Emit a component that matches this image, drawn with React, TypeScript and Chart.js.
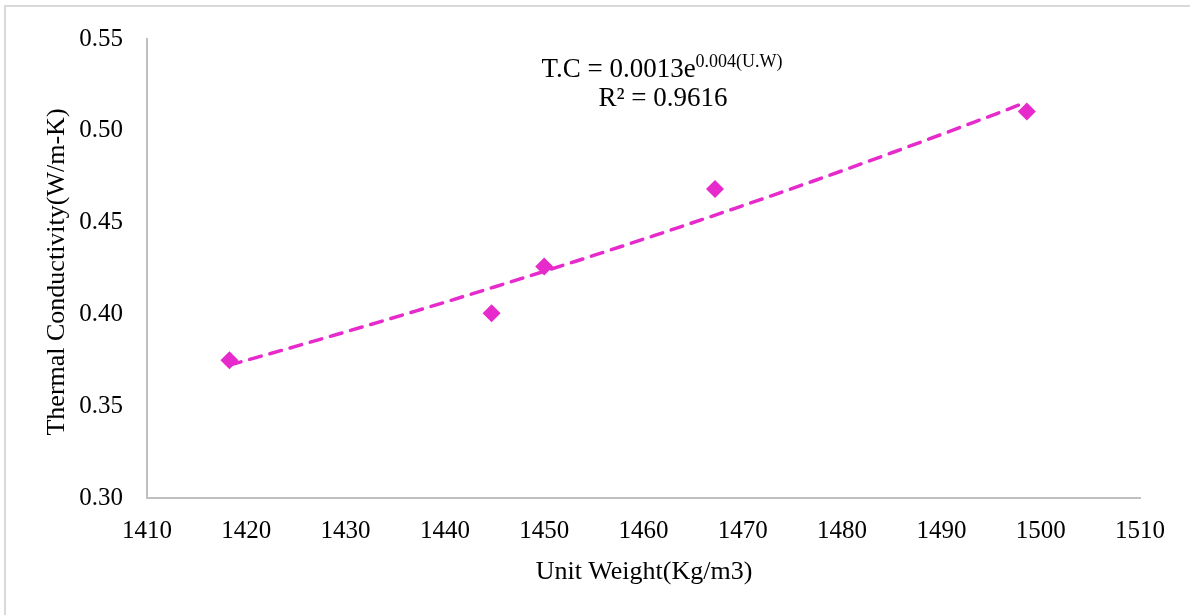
import React, { useEffect, useRef } from "react";
import { Chart, registerables } from "chart.js";

Chart.register(...registerables);

const unitWeight = [1418.3, 1444.7, 1450.0, 1467.2, 1498.6];
const thermalConductivity = [0.375, 0.4006, 0.4261, 0.4683, 0.5105];
const xTicks = [1410, 1420, 1430, 1440, 1450, 1460, 1470, 1480, 1490, 1500, 1510];
const yTicks = [0.3, 0.35, 0.4, 0.45, 0.5, 0.55];
const equationMain = "T.C = 0.0013e";
const equationSup = "0.004(U.W)";
const rSquaredLabel = "R² = 0.9616";
const xTitle = "Unit Weight(Kg/m3)";
const yTitle = "Thermal Conductivity(W/m-K)";

const COLOR = "#E62ACB";
const FONT = "'Liberation Serif', 'Times New Roman', serif";

// exponential least-squares fit (as Excel trendline does) on ln(y)
function expFit(xs: number[], ys: number[]) {
  const n = xs.length;
  const ly = ys.map((v) => Math.log(v));
  const mx = xs.reduce((a, b) => a + b, 0) / n;
  const my = ly.reduce((a, b) => a + b, 0) / n;
  let sxy = 0, sxx = 0;
  for (let i = 0; i < n; i++) {
    sxy += (xs[i] - mx) * (ly[i] - my);
    sxx += (xs[i] - mx) * (xs[i] - mx);
  }
  const b = sxy / sxx;
  const lnA = my - b * mx;
  return (x: number) => Math.exp(lnA + b * x);
}

export default function App() {
  const ref = useRef<HTMLCanvasElement>(null);
  useEffect(() => {
    if (!ref.current) return;
    const f = expFit(unitWeight, thermalConductivity);
    const xmin = Math.min(...unitWeight);
    const xmax = Math.max(...unitWeight);
    const steps = 30;
    const trend = Array.from({ length: steps + 1 }, (_, i) => {
      const x = xmin + ((xmax - xmin) * i) / steps;
      return { x, y: f(x) };
    });

    const textPlugin = {
      id: "texts",
      afterDraw(chart: any) {
        const ctx = chart.ctx;
        ctx.save();
        ctx.fillStyle = "#000";
        ctx.textBaseline = "middle";
        // equation
        ctx.font = `27px ${FONT}`;
        const wMain = ctx.measureText(equationMain).width;
        ctx.font = `18px ${FONT}`;
        const wSup = ctx.measureText(equationSup).width;
        const cx = 662;
        const startX = cx - (wMain + wSup) / 2;
        ctx.textAlign = "left";
        ctx.font = `27px ${FONT}`;
        ctx.fillText(equationMain, startX, 70);
        ctx.font = `18px ${FONT}`;
        ctx.fillText(equationSup, startX + wMain, 62);
        ctx.font = `27px ${FONT}`;
        ctx.textAlign = "center";
        ctx.fillText(rSquaredLabel, 663, 99);
        // axis titles
        ctx.font = `26px ${FONT}`;
        ctx.fillText(xTitle, 644, 572);
        ctx.translate(57, 272);
        ctx.rotate(-Math.PI / 2);
        ctx.fillText(yTitle, 0, 0);
        ctx.restore();
      },
    };

    const chart = new Chart(ref.current, {
      type: "scatter",
      data: {
        datasets: [
          {
            label: "Thermal Conductivity",
            data: unitWeight.map((x, i) => ({ x, y: thermalConductivity[i] })),
            pointStyle: "rectRot",
            pointRadius: 9,
            pointHoverRadius: 9,
            backgroundColor: COLOR,
            borderColor: COLOR,
            borderWidth: 0,
            showLine: false,
            order: 2,
          },
          {
            label: "Trend",
            data: trend,
            showLine: true,
            pointRadius: 0,
            borderColor: COLOR,
            borderWidth: 3.5,
            borderDash: [12, 9],
            borderCapStyle: "round",
            tension: 0,
            order: 1,
          } as any,
        ],
      },
      options: {
        animation: false,
        responsive: false,
        maintainAspectRatio: false,
        layout: { padding: { top: 36, right: 50, left: 0, bottom: 0 } },
        plugins: {
          legend: { display: false },
          tooltip: { enabled: false },
          title: { display: false },
        },
        scales: {
          x: {
            type: "linear",
            min: 1410,
            max: 1510,
            afterBuildTicks: (s: any) => {
              s.ticks = xTicks.map((v) => ({ value: v }));
            },
            afterFit: (s: any) => {
              s.height = 117;
            },
            grid: { display: false, drawTicks: false },
            border: { display: true, color: "#BFBFBF", width: 2 },
            ticks: {
              color: "#000",
              font: { family: FONT, size: 25 },
              padding: 18,
              maxRotation: 0,
              autoSkip: false,
              callback: (v: any) => String(v),
            },
          },
          y: {
            type: "linear",
            min: 0.3,
            max: 0.55,
            afterBuildTicks: (s: any) => {
              s.ticks = yTicks.map((v) => ({ value: v }));
            },
            afterFit: (s: any) => {
              s.width = 147;
            },
            grid: { display: false, drawTicks: false },
            border: { display: true, color: "#BFBFBF", width: 2 },
            ticks: {
              color: "#000",
              font: { family: FONT, size: 25 },
              padding: 24,
              callback: (v: any) => Number(v).toFixed(2),
            },
          },
        },
      },
      plugins: [textPlugin],
    });
    return () => chart.destroy();
  }, []);

  return (
    <div style={{ position: "fixed", left: 0, top: 0, width: 1190, height: 615, background: "#fff" }}>
      <div
        style={{
          position: "absolute",
          left: 4,
          top: 5,
          width: 1200,
          height: 620,
          borderLeft: "2px solid #D9D9D9",
          borderTop: "2px solid #D9D9D9",
        }}
      />
      <canvas ref={ref} width={1190} height={615} style={{ position: "absolute", left: 0, top: 0 }} />
    </div>
  );
}
